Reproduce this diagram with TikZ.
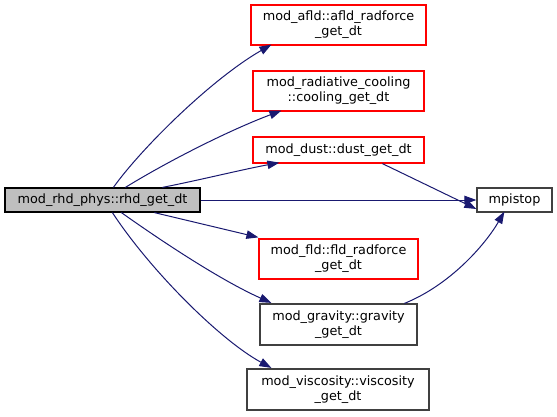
\documentclass[tikz,border=0pt]{standalone}
\usepackage{fontspec}
\setmainfont{DejaVu Sans}
\usetikzlibrary{arrows.meta,calc}
\definecolor{edgeblue}{HTML}{191970}
\definecolor{boxgrey}{HTML}{404040}
\definecolor{mainfill}{HTML}{BFBFBF}
\tikzset{
  fn/.style={draw, line width=1.2pt, inner sep=0pt, align=center,
    font=\fontsize{12.8}{15}\selectfont, anchor=center},
  redbox/.style={fn, draw=red},
  greybox/.style={fn, draw=boxgrey},
  mainbox/.style={fn, draw=black, fill=mainfill},
  call/.style={draw=edgeblue, line width=1pt,
    -{Triangle[length=12pt,width=8.5pt,fill=edgeblue]}},
}
\begin{document}
\begin{tikzpicture}[x=1pt,y=-1pt]
\useasboundingbox (0,0) rectangle (557,416);
\node[mainbox, minimum width=195pt, minimum height=24pt] (main) at (102.5,200) {mod\_rhd\_phys::rhd\_get\_dt};
\node[redbox, minimum width=175pt, minimum height=40pt] (afld) at (338.5,25) {mod\_afld::afld\_radforce\\\_get\_dt};
\node[redbox, minimum width=171pt, minimum height=40pt] (cool) at (338.5,91) {mod\_radiative\_cooling\\::cooling\_get\_dt};
\node[redbox, minimum width=171pt, minimum height=26pt] (dust) at (338.5,150) {mod\_dust::dust\_get\_dt};
\node[greybox, minimum width=75pt, minimum height=24pt] (mpi) at (514.5,200) {mpistop};
\node[redbox, minimum width=159pt, minimum height=40pt] (fld) at (338.5,259) {mod\_fld::fld\_radforce\\\_get\_dt};
\node[greybox, minimum width=157pt, minimum height=41pt] (grav) at (338.5,324.5) {mod\_gravity::gravity\\\_get\_dt};
\node[greybox, minimum width=182pt, minimum height=41pt] (visc) at (338,389.5) {mod\_viscosity::viscosity\\\_get\_dt};

\draw[call] ([xshift=109pt]main.north west) .. controls (140,150) and (210,80) .. ([xshift=21pt,yshift=1pt]afld.south west);
\draw[call] ([xshift=121pt]main.north west) .. controls (170,160) and (230,130) .. ([xshift=29pt,yshift=1pt]cool.south west);
\draw[call] ([xshift=158pt]main.north west) .. controls (200,180) and (240,170) .. ([xshift=27pt,yshift=1pt]dust.south west);
\draw[call] (main.east) -- (mpi.west);
\draw[call] ([xshift=130pt]dust.south west) -- ([yshift=-9pt]mpi.west);
\draw[call] ([xshift=150pt]main.south west) -- ([yshift=1pt]fld.north west);
\draw[call] ([xshift=117pt]main.south west) .. controls (160,240) and (220,280) .. ([xshift=12pt,yshift=0.5pt]grav.north west);
\draw[call] ([xshift=108pt]main.south west) .. controls (150,270) and (220,340) .. ([xshift=25pt,yshift=0.5pt]visc.north west);
\draw[call] ([xshift=145pt]grav.north west) .. controls (450,285) and (485,245) .. ([xshift=28pt,yshift=1pt]mpi.south west);
\end{tikzpicture}
\end{document}
